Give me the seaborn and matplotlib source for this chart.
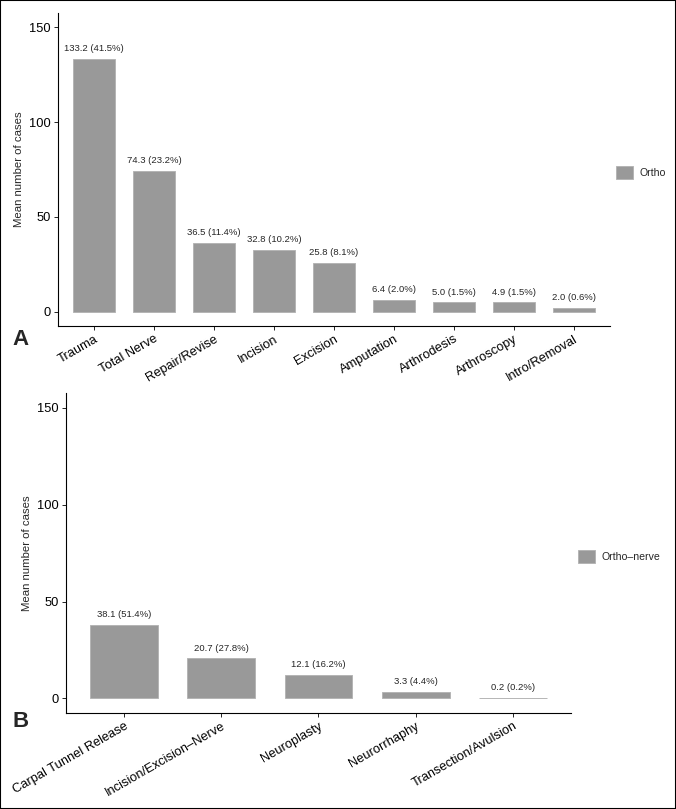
import matplotlib
matplotlib.use("Agg")
import matplotlib.pyplot as plt
import matplotlib.patches as mpatches
import seaborn as sns
import pandas as pd

# panel A data
ortho_cats = ["Trauma", "Total Nerve", "Repair/Revise", "Incision", "Excision",
              "Amputation", "Arthrodesis", "Arthroscopy", "Intro/Removal"]
ortho_vals = [133.2, 74.3, 36.5, 32.8, 25.8, 6.4, 5.0, 4.9, 2.0]
ortho_pct = [41.5, 23.2, 11.4, 10.2, 8.1, 2.0, 1.5, 1.5, 0.6]

# panel B data
nerve_cats = ["Carpal Tunnel Release", "Incision/Excision\u2013Nerve", "Neuroplasty",
              "Neurorrhaphy", "Transection/Avulsion"]
nerve_vals = [38.1, 20.7, 12.1, 3.3, 0.2]
nerve_pct = [51.4, 27.8, 16.2, 4.4, 0.2]

sns.set_style("white")
plt.rcParams['font.family'] = ['Liberation Sans', 'DejaVu Sans']

bar_col = "#999999"
edge_col = "#b5b5b5"

fig = plt.figure(figsize=(6.76, 8.09), dpi=100)
ax1 = fig.add_axes([0.0858, 0.597, 0.9024 - 0.0858, 0.984 - 0.597])
ax2 = fig.add_axes([0.0976, 0.1187, 0.8447 - 0.0976, 0.514 - 0.1187])


def draw(ax, cats, vals, pct, legend_name, legend_xy, letter, letter_xy):
    df = pd.DataFrame({"cat": cats, "val": vals})
    sns.barplot(data=df, x="cat", y="val", color=bar_col, width=0.7,
                edgecolor=edge_col, linewidth=0.7, saturation=1, ax=ax)
    labels = [f"{v:.1f} ({p:.1f}%)" for v, p in zip(vals, pct)]
    ax.bar_label(ax.containers[0], labels=labels, padding=4, fontsize=6.8)
    ax.set_xlim(-0.6, len(cats) - 0.4)
    ax.set_ylim(-7.5, 157.5)
    ax.set_yticks([0, 50, 100, 150])
    ax.set_xlabel("")
    ax.set_ylabel("Mean number of cases", fontsize=8.2, labelpad=4)
    ax.tick_params(axis="both", which="both", direction="out", length=3,
                   width=0.6, color="black", labelsize=9.3, labelcolor="black",
                   left=True, bottom=True, pad=2)
    plt.setp(ax.get_xticklabels(), rotation=30, ha="right", rotation_mode="anchor")
    for s in ["top", "right"]:
        ax.spines[s].set_visible(False)
    for s in ["left", "bottom"]:
        ax.spines[s].set_color("black")
        ax.spines[s].set_linewidth(0.8)
    handle = mpatches.Patch(facecolor=bar_col, edgecolor=edge_col, linewidth=0.7,
                            label=legend_name)
    fig.legend(handles=[handle], loc="center left", bbox_to_anchor=legend_xy,
               frameon=False, fontsize=7.6, handlelength=1.6, handleheight=1.6,
               handletextpad=0.6, borderaxespad=0, borderpad=0)
    fig.text(letter_xy[0], letter_xy[1], letter, fontsize=16, fontweight="bold",
             ha="left", va="baseline")


draw(ax1, ortho_cats, ortho_vals, ortho_pct, "Ortho", (0.911, 0.787),
     "A", (0.018, 0.574))
draw(ax2, nerve_cats, nerve_vals, nerve_pct, "Ortho\u2013nerve", (0.855, 0.312),
     "B", (0.018, 0.101))

fig.patches.append(mpatches.Rectangle((0, 0), 1, 1, transform=fig.transFigure,
                                      fill=False, edgecolor="black", linewidth=1.5))

fig.savefig("out.png", dpi=100)
